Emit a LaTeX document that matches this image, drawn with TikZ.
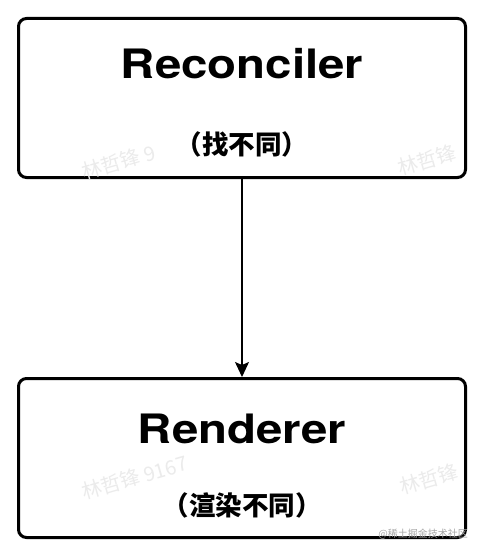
\documentclass[tikz,border=0pt]{standalone}
\usepackage{fontspec}
\setmainfont{TeX Gyre Heros}
\newfontfamily\cjk{Noto Sans CJK SC}
\usetikzlibrary{arrows.meta}
\tikzset{
  box/.style={draw=black, line width=3pt, rounded corners=8pt, minimum width=447pt, minimum height=159pt, inner sep=0pt},
  title/.style={anchor=base, inner sep=0pt, font=\bfseries\fontsize{40.5}{41}\selectfont},
  sub/.style={anchor=base, inner sep=0pt, font=\cjk\bfseries\fontsize{26.5}{28}\selectfont},
  wm/.style={anchor=base west, inner sep=0pt, text=black!8, rotate=16, font=\cjk\fontsize{20}{22}\selectfont},
  logo/.style={anchor=base east, inner sep=0pt, text=black!35, font=\cjk\fontsize{10}{11}\selectfont},
  link/.style={line width=1.3pt, -{Stealth[length=15pt, width=14pt, inset=3pt]}}
}
\begin{document}
\begin{tikzpicture}[x=1pt, y=-1pt]
\useasboundingbox (0,0) rectangle (484,556);
\fill[white] (0,0) rectangle (484,556);
\node[box] (top) at (242,98) {};
\node[box] (bot) at (242,458) {};
\node[wm] (w1) at (84,180) {林哲锋 9};
\node[wm] (w2) at (400,176) {林哲锋};
\node[wm] (w3) at (84,500) {林哲锋 9167};
\node[wm] (w4) at (402,495) {林哲锋};
\node[title] (t1) at (242,79) {\scalebox{1.17}[1]{Reconciler}};
\node[sub] (s1) at (242,155) {（找不同）};
\node[title] (t2) at (242,443) {\scalebox{1.17}[1]{Renderer}};
\node[sub] (s2) at (242,515) {（渲染不同）};
\node[logo] (lg) at (468,537) {@稀土掘金技术社区};
\draw[link] (top.south) -- (bot.north);
\end{tikzpicture}
\end{document}
